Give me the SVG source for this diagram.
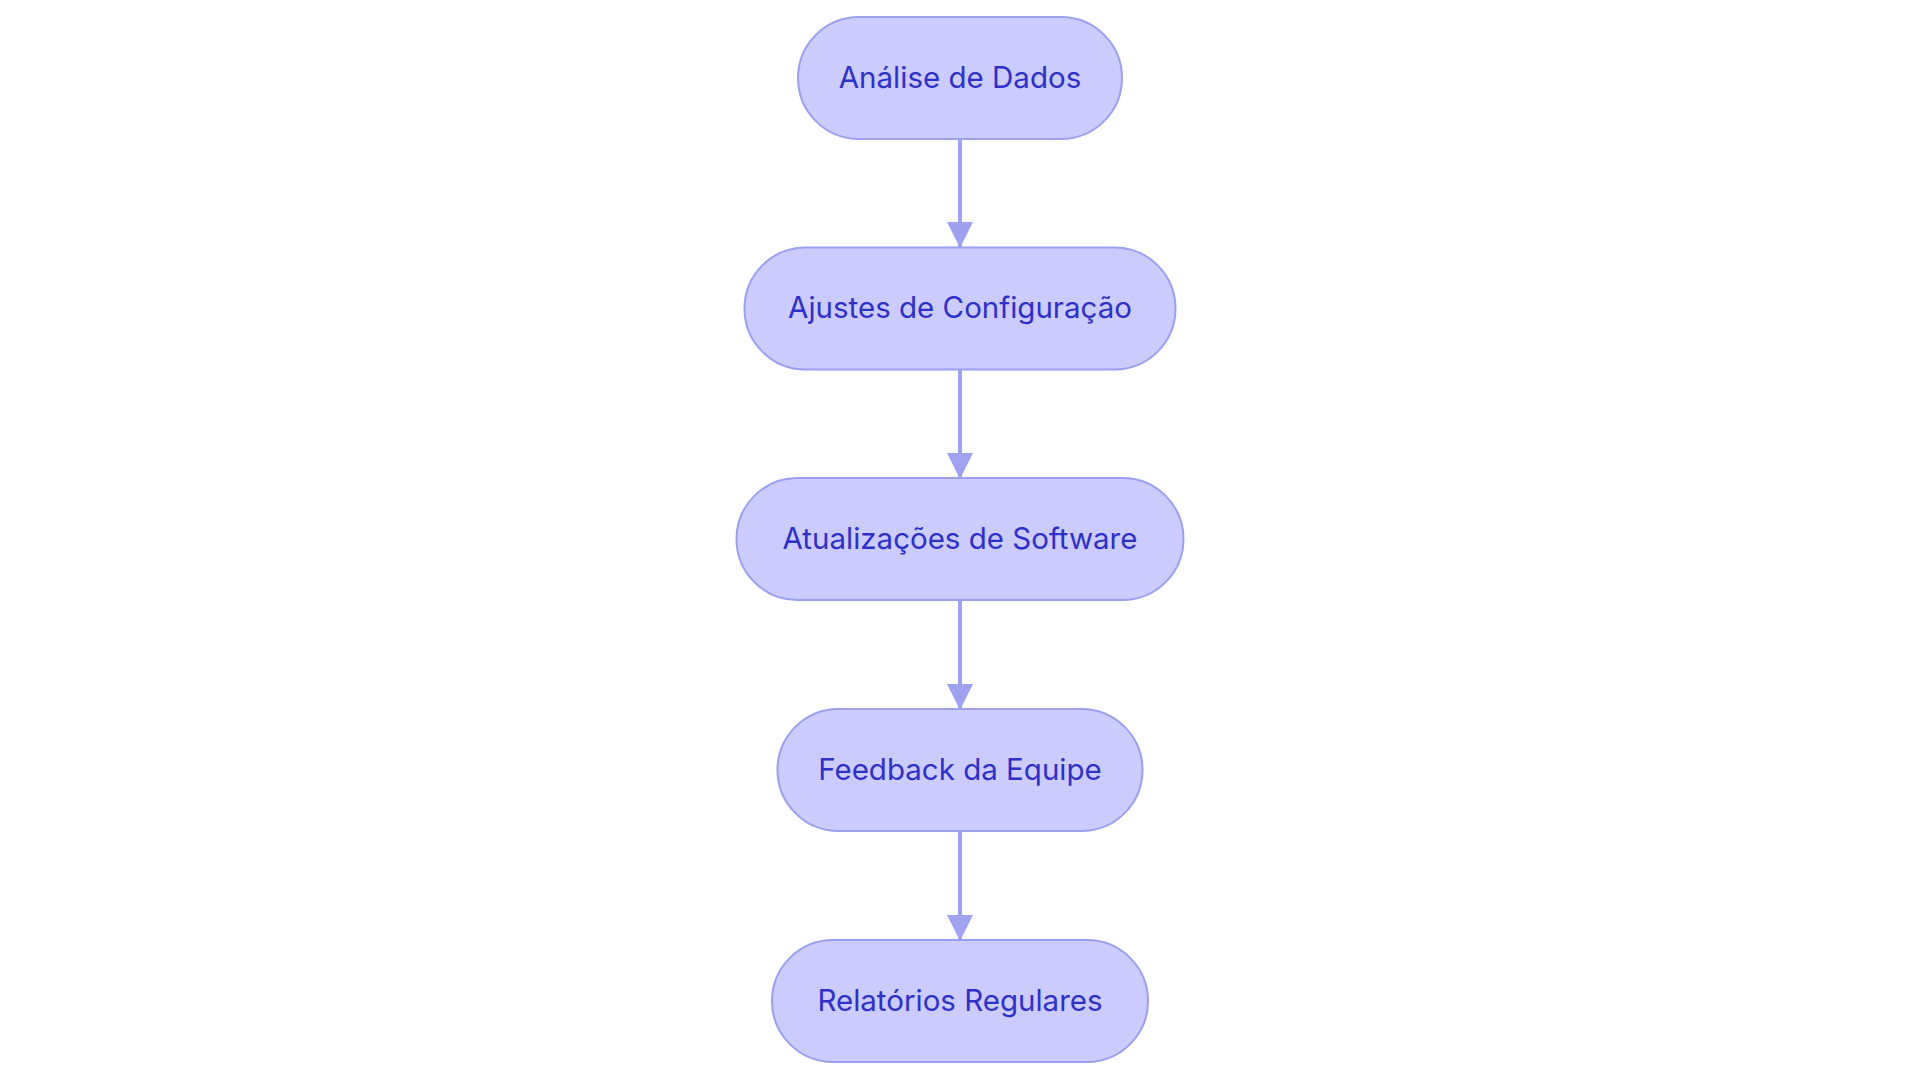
<svg xmlns="http://www.w3.org/2000/svg" width="1920" height="1083" viewBox="0 0 1920 1083">
<style>
.node rect{fill:#cbcbfd;stroke:#9a9ff0;stroke-width:2}
.node text{font-family:Inter,"Noto Sans","Liberation Sans",sans-serif;font-size:29.5px;fill:#2e31c8;text-anchor:middle;dominant-baseline:central}
.edge{stroke:#9ea2f0;stroke-width:4;fill:none}
</style>
<defs>
<marker id="ah" viewBox="0 0 26 26" refX="25" refY="13" markerWidth="26" markerHeight="26" markerUnits="userSpaceOnUse" orient="auto">
<path d="M0,0 L26,13 L0,26 Z" fill="#9ea2f0"/>
</marker>
</defs>
<rect width="1920" height="1083" fill="#ffffff"/>
<g id="connectors">
<line class="edge" x1="960" y1="139" x2="960" y2="247" marker-end="url(#ah)"/>
<line class="edge" x1="960" y1="370" x2="960" y2="478" marker-end="url(#ah)"/>
<line class="edge" x1="960" y1="600" x2="960" y2="709" marker-end="url(#ah)"/>
<line class="edge" x1="960" y1="831" x2="960" y2="940" marker-end="url(#ah)"/>
</g>
<g id="node1" class="node">
<rect x="798" y="17" width="324" height="122" rx="61" ry="61"/>
<text x="960" y="76.5">Análise de Dados</text>
</g>
<g id="node2" class="node">
<rect x="744.5" y="247.5" width="431" height="122" rx="61" ry="61"/>
<text x="960" y="307">Ajustes de Configuração</text>
</g>
<g id="node3" class="node">
<rect x="736.5" y="478" width="447" height="122" rx="61" ry="61"/>
<text x="960" y="537.5">Atualizações de Software</text>
</g>
<g id="node4" class="node">
<rect x="777.5" y="709" width="365" height="122" rx="61" ry="61"/>
<text x="960" y="768.5">Feedback da Equipe</text>
</g>
<g id="node5" class="node">
<rect x="772" y="940" width="376" height="122" rx="61" ry="61"/>
<text x="960" y="999.5">Relatórios Regulares</text>
</g>
</svg>
